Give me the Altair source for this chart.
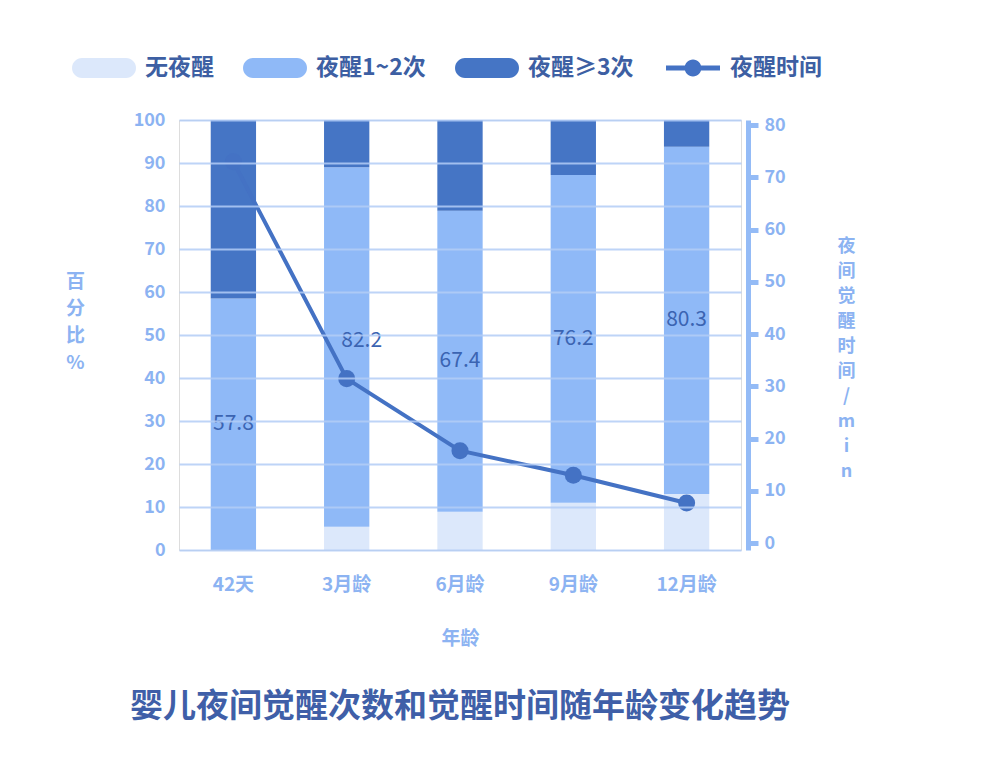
import altair as alt
import pandas as pd

# ---------------- data ----------------
ages = ["42天", "3月龄", "6月龄", "9月龄", "12月龄"]
series_names = ["无夜醒", "夜醒1~2次", "夜醒≥3次"]
no_wake = [0.0, 5.4, 8.9, 11.0, 13.0]
wake_1_2 = [58.5, 83.6, 70.0, 76.2, 80.8]
wake_3plus = [41.5, 11.0, 21.1, 12.8, 6.2]
wake_1_2_labels = ["57.8", "82.2", "67.4", "76.2", "80.3"]
line_name = "夜醒时间"
wake_minutes = [73.0, 31.5, 17.7, 13.0, 7.7]
pct_ticks = list(range(0, 101, 10))
min_ticks = list(range(0, 81, 10))

# ---------------- styles ----------------
C_NONE = "#dce8fb"
C_MID = "#8fb9f7"
C_DARK = "#4575c5"
C_LINE = "#4472c4"
C_AXIS = "#94bbf6"
C_AXIS_TEXT = "#8cb3f2"
C_GRID = "#b3cdf6"
C_LEGEND_TEXT = "#3d5fa3"
C_TITLE = "#3f5fa8"
C_LABEL = "#3b64b2"
FONT = "Noto Sans CJK SC"

rows = []
for i, a in enumerate(ages):
    for k, (name, vals) in enumerate(zip(series_names, [no_wake, wake_1_2, wake_3plus])):
        rows.append({"age": a, "series": name, "value": vals[i], "rank": k})
bars_df = pd.DataFrame(rows)

text_df = pd.DataFrame({"age": ages, "none": no_wake, "mid": wake_1_2, "label": wake_1_2_labels})
line_df = pd.DataFrame({"age": ages, "minutes": wake_minutes, "series": [line_name] * len(ages)})

rect_path = "M-1.1,-0.5 L1.1,-0.5 A0.5,0.5 0 0 1 1.1,0.5 L-1.1,0.5 A0.5,0.5 0 0 1 -1.1,-0.5 Z"
line_path = ("M-1.35,-0.12 L1.35,-0.12 L1.35,0.12 L-1.35,0.12 Z "
             "M-0.42,0 A0.42,0.42 0 1 1 0.42,0 A0.42,0.42 0 1 1 -0.42,0 Z")

x_enc = alt.X(
    "age:N", sort=ages,
    scale=alt.Scale(paddingInner=0.6, paddingOuter=0.28),
    axis=alt.Axis(title="年龄", domain=False, ticks=False, labelAngle=0,
                  labelPadding=25, labelFontSize=19, labelColor=C_AXIS_TEXT,
                  labelFont=FONT, labelFontWeight="bold",
                  titleFontSize=19, titleColor=C_AXIS_TEXT, titleFont=FONT,
                  titleFontWeight="bold", titlePadding=35),
)

bars = alt.Chart(bars_df).mark_bar().encode(
    x=x_enc,
    y=alt.Y("value:Q", stack="zero",
            scale=alt.Scale(domain=[0, 100], nice=False),
            axis=alt.Axis(values=pct_ticks, title=["百", "分", "比", "%"],
                          titleAngle=0, titleAlign="center", titleBaseline="middle",
                          titleX=-104, titleY=161, titleLineHeight=27,
                          titleFontSize=19, titleColor=C_AXIS_TEXT, titleFont=FONT,
                          titleFontWeight="bold",
                          domain=False, ticks=False, labelPadding=14,
                          labelFontSize=18, labelColor=C_AXIS_TEXT, labelFont=FONT,
                          labelFontWeight="bold",
                          grid=True, gridColor=C_GRID, gridWidth=2, gridOpacity=0.85,
                          zindex=1)),
    color=alt.Color("series:N",
                    scale=alt.Scale(domain=series_names, range=[C_NONE, C_MID, C_DARK]),
                    legend=alt.Legend(title=None, orient="none", direction="horizontal",
                                      legendX=-95, legendY=-72,
                                      symbolType=rect_path, symbolSize=1600,
                                      symbolStrokeWidth=0, labelOffset=21,
                                      columnPadding=29,
                                      labelFontSize=23, labelFont=FONT,
                                      labelFontWeight="bold", labelColor=C_LEGEND_TEXT)),
    order=alt.Order("rank:Q"),
)

label_base = alt.Chart(text_df).transform_calculate(
    value="datum.none + datum.mid / 2"
)
labels_main = label_base.transform_filter(
    alt.datum.age != ages[1]
).mark_text(fontSize=21, font=FONT, color=C_LABEL).encode(
    x=alt.X("age:N", sort=ages),
    y=alt.Y("value:Q"),
    text="label:N",
)
labels_shift = label_base.transform_filter(
    alt.datum.age == ages[1]
).mark_text(fontSize=21, font=FONT, color=C_LABEL, dx=15, dy=-6).encode(
    x=alt.X("age:N", sort=ages),
    y=alt.Y("value:Q"),
    text="label:N",
)

left = alt.layer(bars, labels_main, labels_shift)

line = alt.Chart(line_df).mark_line(strokeWidth=4, color=C_LINE).encode(
    x=alt.X("age:N", sort=ages),
    y=alt.Y("minutes:Q",
            scale=alt.Scale(domain=[-1.3, 81], nice=False, zero=False),
            axis=alt.Axis(orient="right", values=min_ticks,
                          title=["夜", "间", "觉", "醒", "时", "间", "/", "m", "i", "n"],
                          titleAngle=0, titleAlign="center", titleBaseline="middle",
                          titleX=98, titleY=126, titleLineHeight=25,
                          titleFontSize=18, titleColor=C_AXIS_TEXT, titleFont=FONT,
                          titleFontWeight="bold",
                          domain=True, domainColor=C_AXIS, domainWidth=5, offset=7,
                          ticks=True, tickColor=C_AXIS, tickWidth=5, tickSize=10,
                          labelPadding=6, labelFontSize=18, labelColor=C_AXIS_TEXT,
                          labelFont=FONT, labelFontWeight="bold", grid=False)),
)

points = alt.Chart(line_df).mark_circle(size=290, opacity=1).encode(
    x=alt.X("age:N", sort=ages),
    y=alt.Y("minutes:Q"),
    color=alt.Color("series:N",
                    scale=alt.Scale(domain=[line_name], range=[C_LINE]),
                    legend=alt.Legend(title=None, orient="none",
                                      legendX=494, legendY=-72,
                                      symbolType=line_path, symbolSize=1600,
                                      symbolStrokeWidth=0, symbolOpacity=1,
                                      labelOffset=17,
                                      labelFontSize=23, labelFont=FONT,
                                      labelFontWeight="bold", labelColor=C_LEGEND_TEXT)),
)

right = alt.layer(line, points)

chart = alt.layer(left, right).resolve_scale(
    y="independent", color="independent"
).resolve_legend(color="independent").properties(
    width=562, height=430,
    autosize=alt.AutoSizeParams(type="none"),
    padding={"left": 171, "top": 112, "right": 200, "bottom": 190},
    title=alt.Title("婴儿夜间觉醒次数和觉醒时间随年龄变化趋势", orient="bottom",
                    anchor="middle", offset=43, fontSize=33, font=FONT,
                    fontWeight="bold", color=C_TITLE),
).configure_view(
    stroke=C_AXIS, strokeWidth=5, cornerRadius=9
).configure(background="white")

chart.save("out.html", embed_options={"renderer": "svg", "actions": False})
